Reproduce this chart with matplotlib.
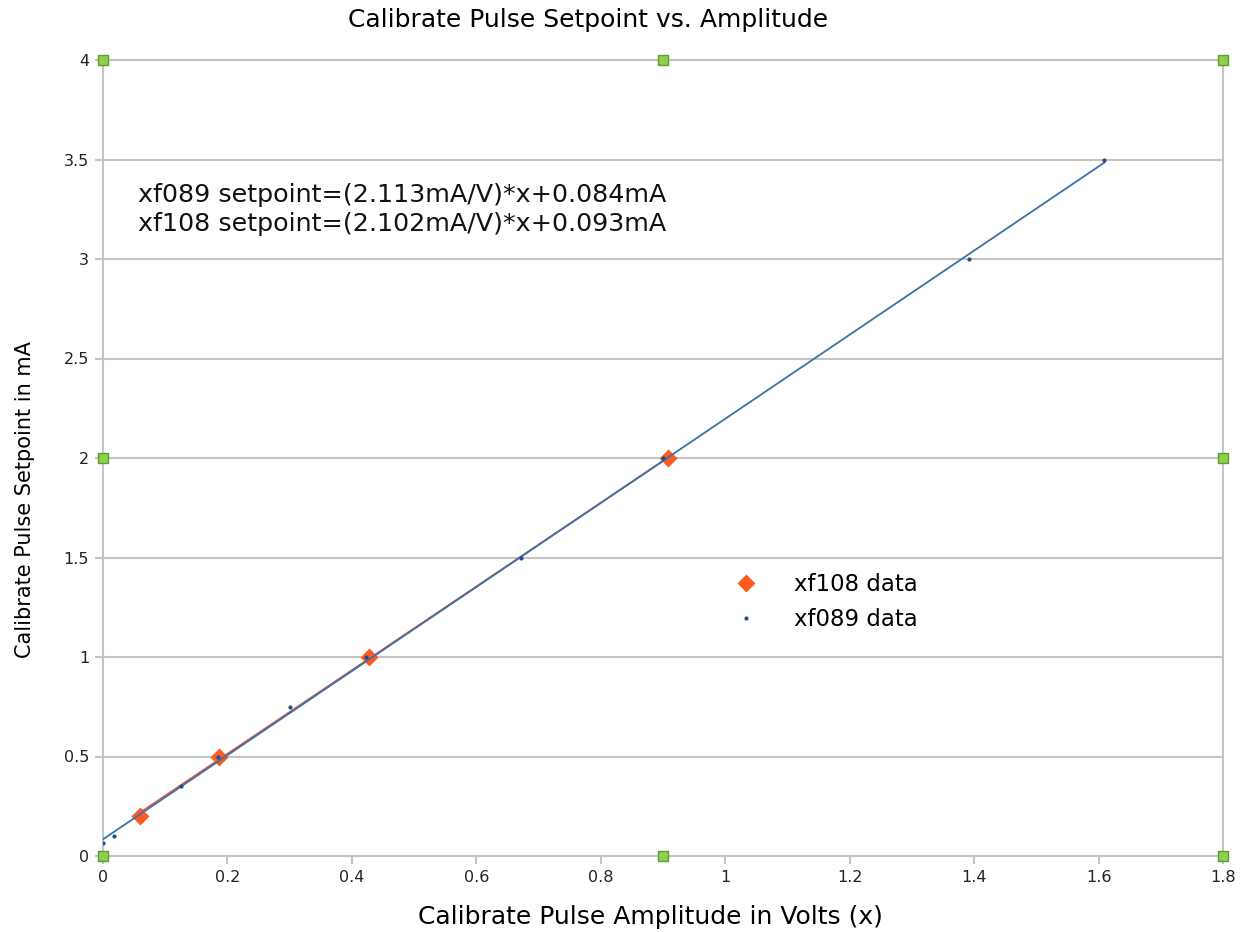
import numpy as np
import matplotlib
matplotlib.use("Agg")
import matplotlib.pyplot as plt

# measured points
xf089_volts = [0.0, 0.018, 0.125, 0.185, 0.30, 0.423, 0.672, 0.90, 1.392, 1.609]
xf089_mA = [0.065, 0.10, 0.35, 0.50, 0.75, 1.0, 1.5, 2.0, 3.0, 3.5]
xf108_volts = [0.0595, 0.186, 0.428, 0.908]
xf108_mA = [0.2, 0.5, 1.0, 2.0]

# trendlines from the chart's equations
xf089_fit = (2.113, 0.084)
xf108_fit = (2.102, 0.093)

x_ticks = [0, 0.2, 0.4, 0.6, 0.8, 1, 1.2, 1.4, 1.6, 1.8]
y_ticks = [0, 0.5, 1, 1.5, 2, 2.5, 3, 3.5, 4]

plt.rcParams['font.family'] = ['DejaVu Sans']

fig = plt.figure(figsize=(12.47, 9.32), dpi=100)
ax = fig.add_axes([103/1247, 76/932, 1120/1247, 796/932])

grid_col = "#c4c4c4"
ax.set_xlim(0, 1.8)
ax.set_ylim(0, 4)
ax.set_xticks(x_ticks)
ax.set_yticks(y_ticks)
ax.set_xticklabels([f"{t:g}" for t in x_ticks], fontsize=11.5)
ax.set_yticklabels([f"{t:g}" for t in y_ticks], fontsize=11.5)
ax.tick_params(axis="both", color=grid_col, width=1.5, length=6, pad=4, labelcolor="#222222")
ax.yaxis.grid(True, color=grid_col, linewidth=1.5)
ax.set_axisbelow(True)
for s in ax.spines.values():
    s.set_color(grid_col)
    s.set_linewidth(1.5)

# data + trendlines
ax.plot(xf108_volts, xf108_mA, "D", color="#ff5a1f", ms=9, mec="none", zorder=3, label="xf108 data")
xr = np.array([xf108_volts[0], xf108_volts[-1]])
ax.plot(xr, xf108_fit[0]*xr + xf108_fit[1], color="#e8573c", lw=1.3, zorder=4)
xb = np.array([xf089_volts[0], xf089_volts[-1]])
ax.plot(xb, xf089_fit[0]*xb + xf089_fit[1], color="#3a72aa", lw=1.3, zorder=5)
ax.plot(xf089_volts, xf089_mA, "o", color="#1f4f8a", ms=3, mec="none", zorder=6, label="xf089 data")

# plot area handles
hx = [0, 0.5, 1, 0, 1, 0, 0.5, 1]
hy = [0, 0, 0, 0.5, 0.5, 1, 1, 1]
ax.plot(hx, hy, "s", transform=ax.transAxes, ms=7, mfc="#8fcf4c", mec="#5c9e2c",
        mew=1, clip_on=False, zorder=10)

ax.text(0.031, 0.812, "xf089 setpoint=(2.113mA/V)*x+0.084mA\nxf108 setpoint=(2.102mA/V)*x+0.093mA",
        transform=ax.transAxes, fontsize=18.3, linespacing=1.25, va="center", ha="left", color="#111111")

ax.legend(loc="upper left", bbox_to_anchor=(0.535, 0.382), frameon=False, fontsize=16.5,
          handletextpad=1.1, labelspacing=0.55, markerscale=1.0)

fig.text(588/1247, 1 - 20/932, "Calibrate Pulse Setpoint vs. Amplitude", ha="center", va="center", fontsize=18)
fig.text(650/1247, 1 - 917/932, "Calibrate Pulse Amplitude in Volts (x)", ha="center", va="center", fontsize=18)
fig.text(25/1247, 1 - 500/932, "Calibrate Pulse Setpoint in mA", ha="center", va="center", fontsize=15, rotation=90)

fig.savefig("out.png", dpi=100)
